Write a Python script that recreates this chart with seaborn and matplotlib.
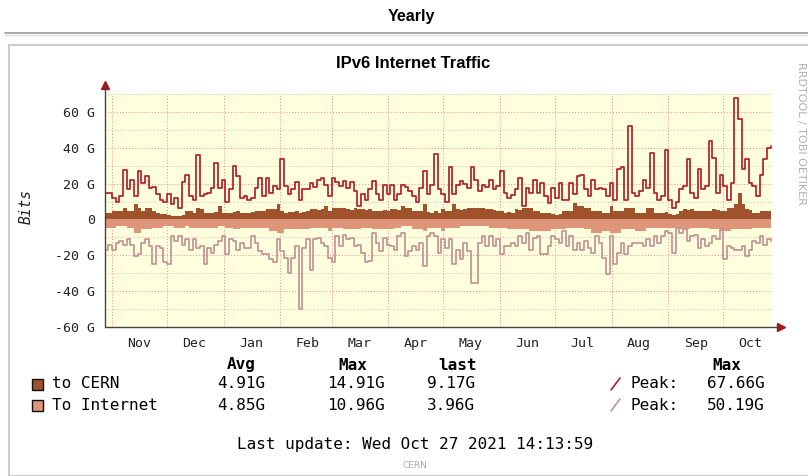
import numpy as np
import pandas as pd
import matplotlib
matplotlib.use("Agg")
import matplotlib.pyplot as plt
import matplotlib.dates as mdates
from matplotlib.ticker import MultipleLocator, FuncFormatter, NullFormatter
from matplotlib.lines import Line2D
from matplotlib.patches import Rectangle
import seaborn as sns

# two-day samples from 2020-10-28 to 2021-10-27, values in G (bits)
peak_in = [15, 15, 12, 10, 13, 27.5, 17, 22, 13, 27, 20.5, 24, 17.5, 18, 14, 11, 9.5, 14, 8.5, 12, 6.5, 21, 25, 13, 11, 36, 13,
           14, 15, 17.5, 31.5, 17.5, 22, 10, 17, 30, 24, 12, 13, 11, 12, 17.5, 23, 13, 23, 15, 18.6, 17, 33.5, 18.6, 14, 17, 21,
           11, 17, 17, 20.5, 18, 22, 23, 19.5, 13, 23, 21, 18.6, 21.4, 17.7, 21, 16, 7.5, 14, 11, 17, 21.4, 14, 11, 19, 14, 19,
           11, 14, 19.5, 18, 16, 13, 10, 17.7, 27, 14, 19.5, 36.3, 16.8, 14, 10, 29, 14, 19.5, 21.4, 20, 17.7, 29, 22, 16, 19.5, 18,
           22, 17, 18.6, 27, 15, 12, 13.4, 16.8, 23, 7.5, 17.7, 15, 22, 15, 20.5, 13, 9.3, 17.7, 12, 20.5, 11, 11, 20.5, 14, 24, 25,
           16.8, 13, 22, 16.8, 17.7, 16.8, 13, 20.5, 11, 28, 29, 11, 52, 15, 13, 16, 22, 17.7, 37, 15, 11, 13, 39, 11, 6.5, 10,
           16.8, 18.6, 33.5, 15, 12, 28, 16.8, 18.6, 43.8, 34.5, 15, 25, 18.6, 11, 20.5, 67.66, 56, 28, 33.5, 20.5, 18.6, 13, 25, 33.5, 40, 41]

peak_out = [16.8, 14, 16.8, 13, 12, 14, 11, 14, 20.5, 19.5, 13, 11, 15, 25, 15, 16, 24, 25, 9.3, 12, 9.3, 14, 10.8, 16.8, 11, 16, 15,
            25, 16, 18.6, 14, 12, 9.3, 19.5, 11, 12, 16.8, 13, 16, 16, 9.3, 13, 17.7, 19.5, 19.5, 22.3, 24, 11, 17.7, 21.4, 30, 21.4, 15,
            50.19, 16, 11, 28, 11, 10.2, 13, 15, 21.4, 24, 9.3, 15, 8.4, 11, 10.2, 15, 14, 18.6, 24, 23, 7.5, 13, 17.7, 10.2, 14, 15,
            16.8, 9.3, 7.5, 20.5, 17.7, 15, 16.8, 13, 26, 9.3, 7.5, 9.3, 18.6, 11, 16, 11, 25, 16.8, 22.3, 13, 17.7, 35.4, 35.4, 13, 9.3, 15,
            9.3, 15, 11, 19.5, 15, 15, 13, 15, 9.3, 13, 7.5, 16.8, 10.2, 9.3, 19.5, 19.5, 15, 9.3, 11, 13, 6.5, 15, 9.3, 16.8, 13, 16.8,
            12, 16, 18.6, 9.3, 13, 21.4, 30.7, 9.3, 25, 18.6, 13, 19.5, 15, 13, 13, 13, 15, 11, 15, 9.3, 13, 9.3, 6.5, 7.5, 18.6, 4.7,
            7.5, 5.6, 12, 9.3, 8.4, 15.8, 11, 15, 13, 9.3, 11, 5.6, 22.3, 15, 15.8, 16.8, 16.8, 15, 20.5, 16.8, 12, 13, 9.3, 14, 11, 12]

avg_in = [3.7, 3.5, 4.7, 4.5, 4.7, 6.5, 4.7, 4.5, 8.4, 6.5, 4.7, 6.5, 6.5, 4.7, 3.7, 2.8, 2.8, 2.3, 2.0, 2.0, 1.9, 2.5, 4.7, 4.5, 3.7, 6.5, 5.6,
          3.7, 3.5, 3.7, 3.9, 7.5, 3.7, 3.5, 3.7, 4.0, 4.7, 3.7, 3.5, 3.7, 3.9, 4.7, 4.5, 4.7, 5.6, 5.6, 5.6, 8.4, 4.7, 3.7, 3.9, 4.0, 4.5,
          3.7, 3.9, 4.7, 5.6, 5.6, 5.4, 5.6, 7.5, 4.7, 6.5, 6.5, 6.3, 6.5, 5.6, 5.4, 6.5, 5.6, 5.6, 5.4, 5.6, 4.7, 5.0, 4.7, 5.2, 4.7, 5.6,
          5.6, 5.4, 7.5, 6.5, 6.3, 5.0, 4.7, 4.5, 8.4, 4.0, 3.7, 4.5, 3.7, 5.6, 4.7, 4.5, 8.4, 5.6, 5.4, 5.6, 6.5, 6.3, 6.5, 6.5, 6.3, 5.6,
          5.6, 5.4, 4.7, 4.5, 3.7, 3.9, 3.7, 5.6, 5.4, 6.5, 6.3, 6.5, 4.7, 4.5, 3.7, 3.5, 3.7, 2.8, 2.6, 2.8, 4.7, 4.5, 4.7, 9.3, 7.5, 7.5,
          6.5, 6.3, 4.7, 4.5, 4.7, 3.7, 3.5, 7.5, 4.7, 4.5, 4.7, 6.5, 6.3, 6.5, 3.7, 3.5, 3.7, 6.5, 6.3, 3.7, 3.5, 3.7, 3.9, 2.8, 2.6, 2.8,
          4.7, 5.6, 5.4, 5.6, 4.7, 4.5, 4.7, 4.5, 4.7, 5.6, 5.4, 4.7, 4.5, 6.5, 6.3, 8.4, 14.91, 8.4, 5.6, 5.4, 3.7, 3.5, 4.7, 4.5, 4.7, 9.17]

avg_out = [4.7, 4.7, 4.5, 3.7, 3.9, 3.7, 4.7, 4.5, 7.5, 7.5, 5.6, 5.4, 5.6, 4.7, 4.5, 4.7, 3.7, 3.9, 3.7, 4.5, 4.7, 4.5, 3.9, 4.7, 4.5, 4.7, 4.7,
           4.7, 4.5, 4.7, 4.5, 3.7, 3.9, 4.7, 4.5, 5.6, 5.4, 4.7, 4.5, 4.7, 4.5, 4.7, 4.5, 4.7, 4.9, 6.5, 6.3, 7.5, 7.5, 5.6, 5.4, 5.6, 5.6,
           5.6, 5.4, 5.6, 4.7, 4.5, 4.7, 4.5, 4.7, 6.5, 4.7, 4.5, 4.7, 5.6, 5.4, 5.6, 5.4, 5.6, 4.7, 4.5, 4.7, 5.6, 5.4, 5.6, 5.4, 5.6, 5.4,
           4.7, 4.5, 3.7, 3.9, 3.7, 5.6, 5.4, 5.6, 6.5, 4.7, 4.5, 4.7, 4.5, 6.5, 4.7, 4.5, 4.7, 4.5, 3.7, 3.9, 3.7, 3.5, 3.7, 3.9, 3.7, 3.7,
           4.7, 4.5, 4.7, 4.5, 4.7, 5.6, 5.4, 5.6, 5.4, 5.6, 5.4, 6.5, 6.3, 6.5, 6.5, 6.3, 6.5, 5.6, 5.4, 5.6, 5.4, 4.7, 4.5, 4.7, 4.5, 4.7,
           5.6, 5.4, 7.5, 7.3, 7.5, 6.5, 6.3, 7.5, 7.5, 7.3, 5.6, 5.4, 5.6, 5.4, 6.5, 6.3, 6.5, 4.7, 4.5, 4.7, 4.5, 4.7, 4.5, 4.7, 4.5, 4.7,
           5.6, 5.4, 5.6, 4.7, 4.5, 4.7, 4.5, 4.7, 5.6, 5.4, 5.6, 6.5, 6.3, 6.5, 5.6, 5.4, 5.6, 5.6, 5.4, 5.6, 4.7, 4.5, 4.7, 4.5, 4.7, 3.96]

legend_rows = ["to CERN", "To Internet"]
avg_vals = ["4.91G", "4.85G"]
max_vals = ["14.91G", "10.96G"]
last_vals = ["9.17G", "3.96G"]
peak_max = ["67.66G", "50.19G"]

C_IN = "#A0522D"
C_OUT = "#DE957A"
C_PIN = "#B0202A"
C_POUT = "#C39393"
MONO = "DejaVu Sans Mono"
TXT = "#000000"

df = pd.DataFrame({
    "date": pd.date_range("2020-10-28", periods=len(peak_in), freq="2D"),
    "peak_in": peak_in,
    "peak_out": -np.array(peak_out),
    "avg_in": avg_in,
    "avg_out": -np.array(avg_out),
})

sns.set_style("white")
plt.rcParams["font.family"] = ["DejaVu Sans"]

W, H = 808, 476
fig = plt.figure(figsize=(W / 100, H / 100), dpi=100)


def fx(x):
    return x / W


def fy(y):
    return 1 - y / H


# page header and frame around the graph image
fig.text(fx(411), fy(16), "Yearly", ha="center", va="center", fontsize=11.5, fontweight="bold",
         family="Liberation Sans", color=TXT)
fig.add_artist(Line2D([fx(5), 1], [fy(33), fy(33)], color="#999999", lw=1.2))
fig.add_artist(Line2D([fx(5), 1], [fy(35), fy(35)], color="#DDDDDD", lw=1))
fig.add_artist(Rectangle((fx(9), 0), 1, fy(45), fill=False, ec="#CCCCCC", lw=1.5))

ax = fig.add_axes([fx(105), fy(327), (772 - 105) / W, (327 - 94) / H])
ax.set_facecolor("#FFFFDD")

ax.fill_between(df["date"], df["avg_in"], 0, step="post", color=C_IN, lw=0)
ax.fill_between(df["date"], df["avg_out"], 0, step="post", color=C_OUT, lw=0)
sns.lineplot(data=df, x="date", y="peak_in", ax=ax, color=C_PIN, lw=1.25, drawstyle="steps-post")
sns.lineplot(data=df, x="date", y="peak_out", ax=ax, color=C_POUT, lw=1.25, drawstyle="steps-post")

ax.set_xlim(pd.Timestamp("2020-10-28 04:00"), pd.Timestamp("2021-10-27 16:00"))
ax.set_ylim(-60, 70)
ax.set_xlabel("")
ax.set_ylabel("")

ax.yaxis.set_major_locator(MultipleLocator(20))
ax.yaxis.set_minor_locator(MultipleLocator(10))
ax.yaxis.set_major_formatter(FuncFormatter(lambda v, p: "0" if v == 0 else f"{v:.0f} G"))
ax.xaxis.set_major_locator(mdates.MonthLocator(bymonthday=1))
ax.xaxis.set_major_formatter(NullFormatter())
ax.xaxis.set_minor_locator(mdates.MonthLocator(bymonthday=16))
ax.xaxis.set_minor_formatter(mdates.DateFormatter("%b"))

ax.grid(which="major", color="#F08A8A", linestyle=(0, (1, 2)), lw=0.7)
ax.grid(which="minor", axis="y", color="#C8B4B4", linestyle=(0, (1, 2)), lw=0.6)
ax.grid(which="minor", axis="x", visible=False)
ax.set_axisbelow(True)

for s in ["top", "right", "left", "bottom"]:
    ax.spines[s].set_visible(False)
ax.tick_params(which="major", axis="both", length=3, width=0.8, color="#444444", pad=4)
ax.tick_params(which="minor", axis="x", length=0, pad=7)
ax.tick_params(which="minor", axis="y", length=2, width=0.6, color="#444444")
for lab in ax.get_yticklabels() + ax.get_xticklabels(which="minor"):
    lab.set_family(MONO)
    lab.set_fontsize(9.5)
    lab.set_color("#222222")

# axis lines with arrow heads
ax.plot([0, 0], [0, 1 + 6 / 233], transform=ax.transAxes, color="#444444", lw=1, clip_on=False)
ax.plot([0, 1 + 6 / 667], [0, 0], transform=ax.transAxes, color="#444444", lw=1, clip_on=False)
ax.plot([0], [1 + 9 / 233], transform=ax.transAxes, marker="^", ms=6, color="#9B1B1B", clip_on=False)
ax.plot([1 + 9 / 667], [0], transform=ax.transAxes, marker=">", ms=6, color="#9B1B1B", clip_on=False)

fig.text(fx(413), fy(64), "IPv6 Internet Traffic", ha="center", va="center", fontsize=12,
         fontweight="bold", family="Liberation Sans", color=TXT)
fig.text(fx(26), fy(207), "Bits", rotation=90, ha="center", va="center", fontsize=10.5,
         family=MONO, style="italic", color="#222222")
fig.text(fx(801), fy(133), "RRDTOOL / TOBI OETIKER", rotation=270, ha="center", va="center",
         fontsize=8, color="#B0B0B0")

# legend block
for x, t in [(241, "Avg"), (353, "Max"), (458, "last"), (727, "Max")]:
    fig.text(fx(x), fy(365), t, ha="center", va="center", fontsize=11.5, fontweight="bold",
             family=MONO, color=TXT)

for i, (name, col, pcol) in enumerate(zip(legend_rows, [C_IN, C_OUT], [C_PIN, C_POUT])):
    y = 384 + 21 * i
    fig.add_artist(Rectangle((fx(32), fy(y + 6)), 11 / W, 11 / H, fc=col, ec="#111111", lw=1))
    fig.text(fx(52), fy(y), name, ha="left", va="center", fontsize=11.5, family=MONO, color=TXT)
    fig.text(fx(265), fy(y), avg_vals[i], ha="right", va="center", fontsize=11.5, family=MONO, color=TXT)
    fig.text(fx(385), fy(y), max_vals[i], ha="right", va="center", fontsize=11.5, family=MONO, color=TXT)
    fig.text(fx(475), fy(y), last_vals[i], ha="right", va="center", fontsize=11.5, family=MONO, color=TXT)
    fig.add_artist(Line2D([fx(611), fx(620)], [fy(y + 6), fy(y - 6)], color=pcol, lw=1.2))
    fig.text(fx(631), fy(y), "Peak:", ha="left", va="center", fontsize=11.5, family=MONO, color=TXT)
    fig.text(fx(765), fy(y), peak_max[i], ha="right", va="center", fontsize=11.5, family=MONO, color=TXT)

fig.text(fx(415), fy(444), "Last update: Wed Oct 27 2021 14:13:59", ha="center", va="center",
         fontsize=11.5, family=MONO, color=TXT)
fig.text(fx(415), fy(466), "CERN", ha="center", va="center", fontsize=6.5, color="#AAAAAA")

fig.savefig("out.png", dpi=100, facecolor="white")
